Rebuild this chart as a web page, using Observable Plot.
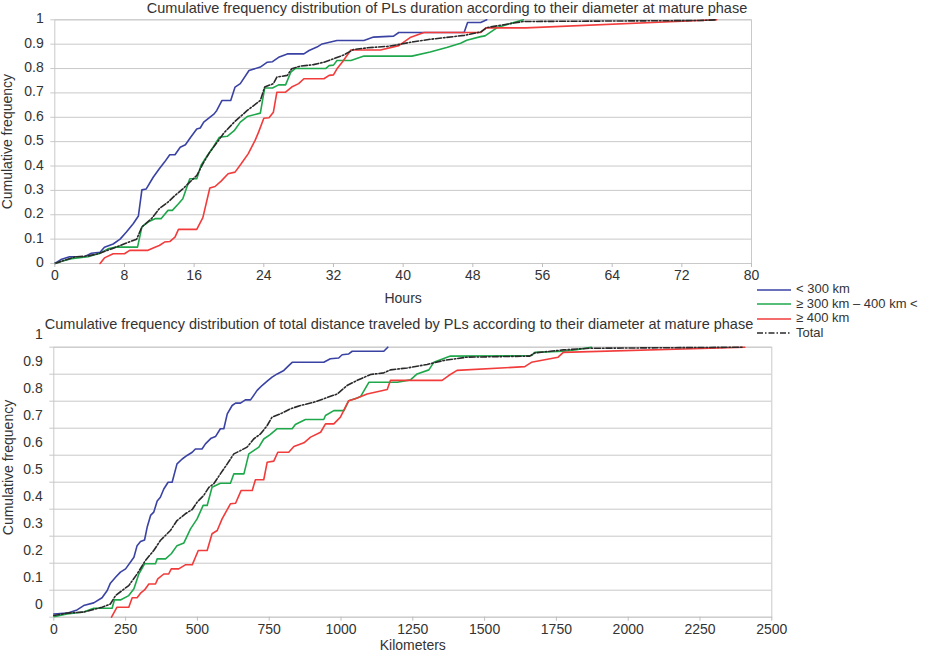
<!DOCTYPE html>
<html>
<head>
<meta charset="utf-8">
<script src="https://cdn.jsdelivr.net/npm/d3@7"></script>
<script src="https://cdn.jsdelivr.net/npm/@observablehq/plot@0.6"></script>
<style>
  body { margin: 0; background: #fff; }
  #wrap { position: relative; width: 932px; height: 654px; overflow: hidden;
          font-family: "Liberation Sans", Arial, Helvetica, sans-serif; color: #333; }
  .panel { position: absolute; left: 0; }
  .title { position: absolute; white-space: nowrap; font-size: 14.5px; line-height: 16.5px;
           transform: translateX(-50%); color: #333; }
  #legend { position: absolute; left: 757px; top: 282.3px; font-size: 13px; color: #333; }
  .row { display: flex; align-items: center; height: 14.6px; line-height: 14.6px; white-space: nowrap; }
  .row svg { width: 34px; height: 4px; margin-right: 5px; flex: none; }
</style>
</head>
<body>
<div id="wrap"></div>
<script>
// ---------- Data ----------
// Top panel: duration (hours) vs cumulative frequency
const durationLt300 = [[0,0],[0.7,0.016],[1.7,0.028],[3.4,0.028],[4.2,0.042],[5.2,0.046],[5.7,0.067],[6.7,0.08],[7.5,0.1],[8.2,0.128],[9,0.163],[9.6,0.195],[10,0.302],[10.5,0.306],[11.3,0.354],[12,0.389],[12.6,0.416],[13.2,0.446],[13.8,0.446],[14.4,0.477],[15,0.487],[15.6,0.518],[16.3,0.552],[16.7,0.556],[17.1,0.58],[18.3,0.614],[18.6,0.628],[19.2,0.669],[20.2,0.669],[20.7,0.724],[21.3,0.738],[22.3,0.792],[23.6,0.806],[24.4,0.826],[25,0.828],[25.7,0.846],[26.7,0.86],[28.6,0.86],[29.2,0.874],[30.1,0.888],[30.7,0.901],[32.4,0.915],[35.5,0.915],[36.6,0.929],[38.9,0.933],[39.5,0.948],[47,0.948],[47.4,0.989],[48.9,0.989],[49.6,1]];
const duration300to400 = [[0,0],[1,0.011],[1.9,0.02],[3.8,0.028],[5.2,0.042],[6.1,0.06],[6.9,0.067],[9.5,0.067],[10,0.15],[10.7,0.17],[11.5,0.184],[12.2,0.184],[13,0.218],[13.5,0.218],[14.2,0.245],[14.7,0.266],[15.5,0.348],[16.3,0.348],[16.8,0.403],[17.4,0.437],[18.2,0.478],[18.9,0.518],[19.8,0.522],[20.6,0.545],[21.3,0.58],[22.1,0.603],[23.6,0.617],[24.1,0.72],[25,0.72],[25.7,0.733],[26.5,0.733],[27.1,0.785],[27.6,0.8],[31.1,0.8],[31.5,0.812],[32,0.814],[32.4,0.833],[34,0.833],[35.5,0.851],[41,0.851],[43.1,0.868],[45,0.886],[46.6,0.904],[47.3,0.916],[48.9,0.931],[49.4,0.934],[50.8,0.968],[52.7,0.989],[53.8,1]];
const durationGe400 = [[5.2,0],[5.7,0.023],[6.7,0.04],[8,0.04],[8.6,0.054],[10.7,0.054],[11.5,0.067],[12,0.074],[12.6,0.088],[13.2,0.09],[13.8,0.108],[14.2,0.14],[16.3,0.14],[17,0.188],[17.8,0.31],[18.4,0.316],[19.1,0.338],[19.9,0.368],[20.7,0.375],[21.4,0.409],[22.2,0.45],[23,0.505],[23.4,0.539],[24,0.596],[24.6,0.598],[25.1,0.621],[25.5,0.703],[26.5,0.703],[27.2,0.724],[28,0.738],[28.6,0.758],[30.9,0.758],[31.5,0.772],[32,0.774],[32.4,0.799],[33,0.826],[34,0.876],[37.4,0.876],[39.5,0.894],[40.8,0.927],[42.4,0.948],[48.9,0.948],[49.5,0.967],[54.1,0.967],[76,1]];
const durationTotal = [[0,0],[1.1,0.013],[2.3,0.027],[3.8,0.031],[5,0.04],[6.5,0.06],[8,0.081],[9.4,0.1],[10,0.15],[11.1,0.184],[12,0.225],[13,0.252],[13.8,0.279],[14.7,0.306],[15.5,0.334],[16.3,0.361],[17,0.409],[17.8,0.457],[18.8,0.505],[19.4,0.535],[20.6,0.58],[22.1,0.628],[23.6,0.669],[24.1,0.724],[25.1,0.738],[25.5,0.765],[26.7,0.772],[27.2,0.799],[28.2,0.81],[29.7,0.816],[30.9,0.826],[32,0.84],[33.2,0.856],[34.3,0.878],[35.9,0.885],[38.2,0.891],[39.7,0.9],[41.2,0.91],[43.1,0.92],[47,0.936],[48.9,0.95],[49.6,0.968],[51.9,0.982],[53.8,0.993],[74,0.997],[76,1]];

// Bottom panel: total distance (km) vs cumulative frequency
const distanceLt300 = [[0,0.012],[46,0.015],[81,0.027],[104,0.043],[139,0.053],[168,0.072],[186,0.099],[197,0.126],[215,0.148],[232,0.167],[250,0.179],[279,0.222],[290,0.265],[302,0.28],[316,0.286],[325,0.333],[337,0.377],[348,0.389],[360,0.43],[371,0.444],[383,0.475],[398,0.5],[412,0.5],[429,0.568],[447,0.586],[464,0.599],[482,0.611],[493,0.623],[516,0.623],[528,0.642],[548,0.663],[563,0.669],[580,0.698],[592,0.698],[604,0.753],[621,0.784],[633,0.793],[650,0.793],[667,0.805],[685,0.805],[708,0.84],[725,0.858],[743,0.874],[760,0.889],[778,0.901],[801,0.914],[818,0.932],[830,0.944],[940,0.944],[963,0.957],[992,0.96],[1004,0.972],[1027,0.975],[1039,0.985],[1149,0.985],[1163,1]];
const distance300to400 = [[0,0.002],[46,0.012],[104,0.019],[139,0.033],[203,0.033],[211,0.064],[232,0.064],[261,0.08],[279,0.105],[296,0.16],[316,0.198],[354,0.198],[360,0.216],[389,0.216],[409,0.235],[429,0.265],[453,0.275],[476,0.327],[499,0.364],[520,0.414],[534,0.414],[551,0.481],[580,0.496],[615,0.496],[627,0.531],[662,0.531],[679,0.605],[696,0.617],[714,0.63],[731,0.66],[752,0.675],[778,0.698],[830,0.698],[841,0.714],[876,0.732],[940,0.732],[946,0.747],[975,0.765],[1010,0.765],[1027,0.802],[1056,0.812],[1068,0.817],[1097,0.87],[1196,0.87],[1242,0.879],[1265,0.901],[1306,0.916],[1323,0.944],[1381,0.967],[1663,0.969],[1675,0.981],[1774,0.985],[1820,0.991],[1872,1]];
const distanceGe400 = [[201,0],[220,0.037],[261,0.037],[273,0.072],[290,0.072],[302,0.089],[316,0.101],[331,0.123],[354,0.123],[362,0.142],[383,0.16],[400,0.16],[409,0.179],[435,0.179],[458,0.194],[482,0.194],[503,0.247],[534,0.247],[551,0.309],[569,0.321],[586,0.364],[615,0.42],[633,0.422],[652,0.469],[691,0.469],[702,0.509],[731,0.509],[743,0.574],[766,0.578],[780,0.611],[818,0.611],[836,0.632],[871,0.646],[894,0.667],[929,0.685],[946,0.716],[975,0.716],[998,0.741],[1021,0.79],[1027,0.802],[1050,0.809],[1091,0.827],[1161,0.843],[1172,0.877],[1352,0.877],[1375,0.895],[1404,0.914],[1640,0.928],[1663,0.944],[1756,0.963],[1774,0.981],[2406,1]];
const distanceTotal = [[0,0.006],[46,0.015],[104,0.019],[168,0.037],[197,0.049],[215,0.08],[238,0.099],[261,0.117],[290,0.16],[319,0.21],[348,0.247],[371,0.284],[406,0.321],[429,0.358],[458,0.383],[482,0.399],[499,0.426],[522,0.451],[540,0.481],[557,0.494],[580,0.531],[604,0.568],[627,0.605],[650,0.617],[673,0.63],[696,0.66],[720,0.679],[743,0.71],[760,0.741],[789,0.753],[824,0.772],[859,0.784],[905,0.796],[940,0.809],[987,0.827],[1021,0.858],[1056,0.877],[1103,0.899],[1149,0.905],[1172,0.916],[1230,0.923],[1300,0.936],[1358,0.951],[1437,0.963],[1657,0.967],[1675,0.979],[1774,0.99],[1866,0.996],[2400,1]];

// Axis ticks and labels
const hourTicks = [0, 8, 16, 24, 32, 40, 48, 56, 64, 72, 80];
const kmTicks = [0, 250, 500, 750, 1000, 1250, 1500, 1750, 2000, 2250, 2500];
const freqTicks = [0, 0.1, 0.2, 0.3, 0.4, 0.5, 0.6, 0.7, 0.8, 0.9, 1];
const seriesNames = ["< 300 km", "\u2265 300 km \u2013 400 km <", "\u2265 400 km", "Total"];
const seriesColors = ["#3a42a3", "#1ea84b", "#f23b3b", "#2a2a2a"];
const seriesDash = [null, null, null, "6,2,1.5,2"];
const titleTop = "Cumulative frequency distribution of PLs duration according to their diameter at mature phase";
const titleBottom = "Cumulative frequency distribution of total distance traveled by PLs according to their diameter at mature phase";
const yLabelText = "Cumulative frequency";

// ---------- Drawing ----------
const FONT = '"Liberation Sans", Arial, Helvetica, sans-serif';
const fmtY = d => String(+d.toFixed(1));
const fmtX = d => String(d);

function panel(o) {
  return Plot.plot({
    width: 932, height: o.height,
    marginTop: o.mt, marginBottom: o.mb, marginLeft: o.ml, marginRight: o.mr,
    style: {fontFamily: FONT, fontSize: "14px", color: "#333", background: "transparent", overflow: "visible"},
    x: {domain: o.xDomain},
    y: {domain: [0, 1]},
    marks: [
      Plot.gridY(freqTicks, {stroke: "#c9c9c9", strokeOpacity: 1, insetLeft: -4}),
      Plot.frame({stroke: "#c9c9c9"}),
      ...o.series.map((s, i) => Plot.line(s, {
        x: d => d[0], y: d => d[1],
        stroke: seriesColors[i], strokeWidth: 1.6,
        strokeDasharray: seriesDash[i] || undefined
      })),
      Plot.axisX(o.xTicks, {tickSize: 4, stroke: "#bdbdbd", fill: "#333", tickPadding: 3, tickFormat: fmtX, label: null, fontSize: 14}),
      Plot.axisY(freqTicks, {tickSize: 0, tickPadding: 11, tickFormat: fmtY, label: null, dy: o.yTickDy, fill: "#333", fontSize: 14}),
      Plot.text([o.xLabel], {text: d => d, frameAnchor: "bottom", lineAnchor: "middle", textAnchor: "middle", dy: o.xLabelDy, fontSize: 14, fill: "#333"}),
      Plot.text([yLabelText], {text: d => d, frameAnchor: "left", lineAnchor: "middle", textAnchor: "middle", dx: o.yLabelDx, dy: o.yLabelDy, rotate: -90, fontSize: 14, fill: "#333"})
    ]
  });
}

const wrap = document.getElementById("wrap");

const top1 = document.createElement("div");
top1.className = "panel"; top1.style.top = "0px";
top1.appendChild(panel({
  height: 310, mt: 19.3, mb: 47, ml: 54.3, mr: 181,
  xDomain: [0, 80], xTicks: hourTicks, xLabel: "Hours",
  series: [durationLt300, duration300to400, durationGe400, durationTotal],
  yTickDy: -1, xLabelDy: 34.7, yLabelDx: -46.8, yLabelDy: 0
}));
wrap.appendChild(top1);

const bot = document.createElement("div");
bot.className = "panel"; bot.style.top = "310px";
bot.appendChild(panel({
  height: 344, mt: 36.7, mb: 37.3, ml: 53.3, mr: 160.7,
  xDomain: [0, 2500], xTicks: kmTicks, xLabel: "Kilometers",
  series: [distanceLt300, distance300to400, distanceGe400, distanceTotal],
  yTickDy: -13, xLabelDy: 28, yLabelDx: -45, yLabelDy: -14.7
}));
wrap.appendChild(bot);

function addTitle(text, cx, top) {
  const t = document.createElement("div");
  t.className = "title"; t.textContent = text;
  t.style.left = cx + "px"; t.style.top = top + "px";
  wrap.appendChild(t);
}
addTitle(titleTop, 447, 0);
addTitle(titleBottom, 399, 316);

// Legend
const legend = document.createElement("div");
legend.id = "legend";
seriesNames.forEach((name, i) => {
  const row = document.createElement("div");
  row.className = "row";
  const dash = seriesDash[i] ? ` stroke-dasharray="${seriesDash[i]}"` : "";
  row.innerHTML = `<svg viewBox="0 0 34 4"><line x1="0" y1="2" x2="34" y2="2" stroke="${seriesColors[i]}" stroke-width="1.6"${dash}/></svg><span></span>`;
  row.querySelector("span").textContent = name;
  legend.appendChild(row);
});
wrap.appendChild(legend);
</script>
</body>
</html>
